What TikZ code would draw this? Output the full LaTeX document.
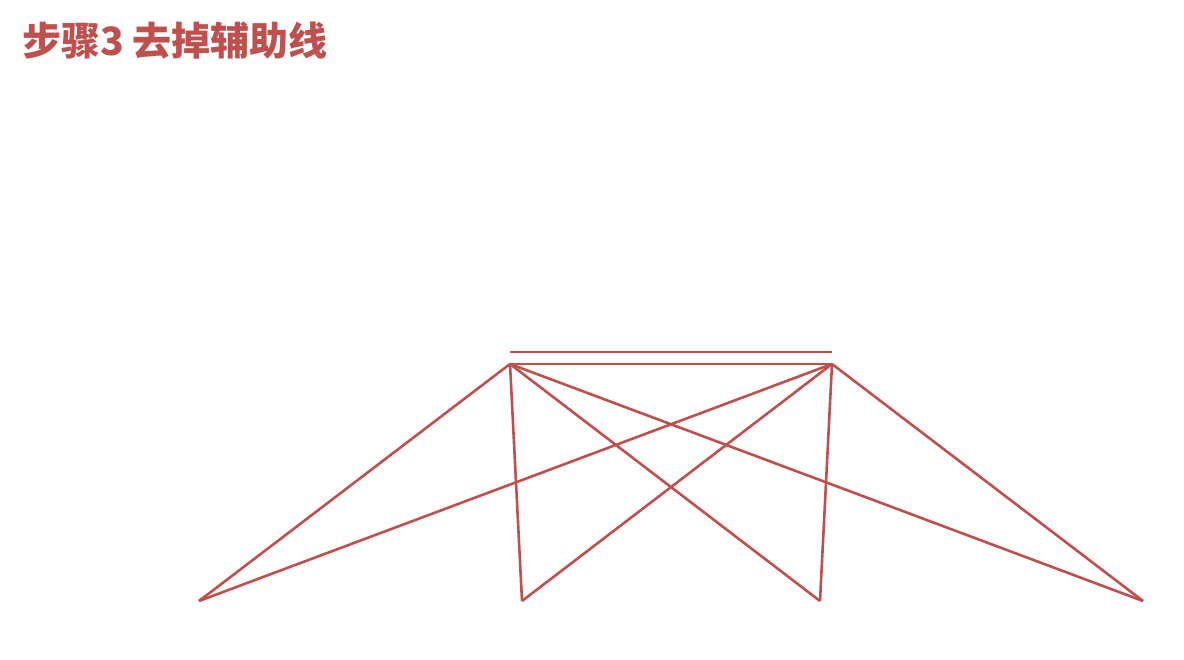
\documentclass[tikz,border=0pt]{standalone}
\usepackage{fontspec}
\usepackage{xcolor}
\newfontfamily\cjk{Noto Sans CJK SC}
\definecolor{linered}{HTML}{C0504D}

\begin{document}
\begin{tikzpicture}[x=1pt, y=-1pt, line width=2.6pt, color=linered]
\useasboundingbox (0,0) rectangle (1184,660);

% Title
\node[anchor=base west, inner sep=0pt, font=\cjk\bfseries\fontsize{39}{46}\selectfont] (title) at (21,56) {步骤3 去掉辅助线};

% Top bar
\coordinate (t1) at (510,352);
\coordinate (t2) at (832,352);
\draw (t1) -- (t2);

% Apex points
\coordinate (a1) at (510,364);
\coordinate (a2) at (832,364);
\draw (a1) -- (a2);

% Base points
\foreach \i/\x in {1/199,2/522,3/820,4/1143}
	\coordinate (b\i) at (\x,601);

% Connections
\foreach \i in {1,2,...,4}
	\draw (a1) -- (b\i);
\foreach \i in {1,2,...,4}
	\draw (a2) -- (b\i);
\end{tikzpicture}
\end{document}
